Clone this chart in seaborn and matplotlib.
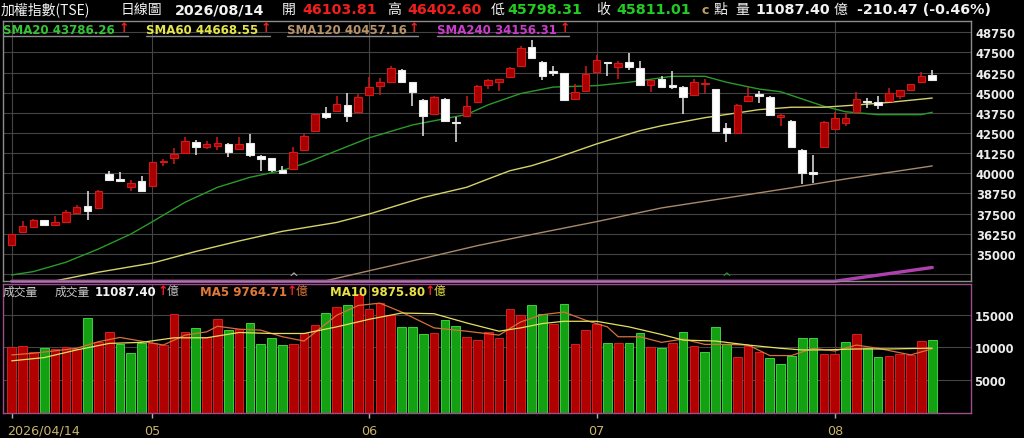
import matplotlib
matplotlib.use("Agg")
import matplotlib.pyplot as plt
import matplotlib.transforms as mtransforms
import numpy as np
import pandas as pd
import seaborn as sns

# ---------------- data ----------------
open_ = [35550, 36340, 36690, 37100, 36810, 37000, 37540, 37990, 37830, 39960,
         39600, 39170, 39540, 39190, 40670, 40930, 41260, 41920, 41650, 41710,
         41820, 41510, 41860, 41090, 40930, 40220, 40270, 41450, 42640, 43720,
         43890, 44240, 43790, 44860, 45440, 45680, 46410, 45650, 44550, 43680,
         44610, 43200, 43570, 44410, 45500, 45650, 45960, 46680, 47820, 46930,
         46370, 46220, 44610, 45130, 46270, 46890, 46580, 46930, 46520, 45480,
         45850, 45480, 45370, 44860, 45560, 45230, 42790, 42500, 44510, 44930,
         44750, 43510, 43260, 41460, 40060, 41610, 42750, 43100, 43790, 44510,
         44410, 44510, 44820, 45170, 45650, 46103.81]
high = [36260, 37060, 37150, 37130, 37330, 37740, 38030, 38920, 38950, 40160,
        40100, 39580, 39850, 40700, 40890, 41550, 42230, 42070, 42020, 42230,
        41850, 42230, 42440, 41110, 40950, 40470, 41610, 42440, 43700, 44100,
        44820, 44980, 44920, 45960, 45900, 46640, 46450, 45680, 44580, 44820,
        44670, 43480, 44820, 45460, 45830, 45870, 46620, 47920, 48290, 46950,
        46680, 46250, 45540, 46640, 47340, 46910, 46990, 47450, 46990, 45810,
        46060, 46370, 45390, 45850, 45850, 45250, 43100, 44280, 45370, 45130,
        44780, 43660, 43280, 41490, 41140, 43260, 43820, 43740, 45030, 44650,
        44820, 45290, 45200, 45560, 46270, 46402.60]
low = [35520, 36300, 36650, 36760, 36790, 36980, 37500, 37120, 37800, 39580,
       39530, 38880, 38900, 39150, 40470, 40580, 41230, 41130, 41500, 41440,
       40990, 41480, 40990, 40160, 40080, 39960, 40250, 41420, 42620, 43370,
       43860, 43200, 43760, 44830, 44860, 45660, 45660, 44200, 42330, 43650,
       43240, 41960, 43550, 44380, 45230, 45130, 45940, 46650, 47100, 45810,
       46020, 44490, 44590, 45100, 46250, 46020, 45850, 46430, 45450, 45030,
       45320, 45230, 43680, 44840, 44980, 42620, 41920, 42480, 44490, 44340,
       43620, 42920, 41580, 39340, 39400, 41590, 42730, 42920, 43770, 44030,
       43990, 44490, 44610, 45150, 45630, 45798.31]
close = [36230, 36750, 37100, 36790, 37000, 37580, 37890, 37680, 38920, 39600,
         39550, 39380, 38920, 40680, 40760, 41200, 42020, 41610, 41820, 41880,
         41340, 41820, 41140, 40890, 40200, 40020, 41340, 42300, 43680, 43510,
         44300, 43570, 44720, 45340, 45650, 46520, 45680, 45060, 43540, 44720,
         43260, 43120, 44160, 45440, 45810, 45850, 46520, 47760, 47140, 46060,
         46220, 44570, 45060, 46160, 47050, 46830, 46830, 46580, 45480, 45790,
         45340, 45370, 44750, 45650, 45630, 42640, 42480, 44260, 44780, 44810,
         43640, 43620, 41610, 40020, 39960, 43170, 43450, 43420, 44610, 44410,
         44240, 44980, 45170, 45540, 46020, 45811.01]
volume = [10100, 10250, 9340, 9850, 9700, 10100, 9750, 14500, 10860, 12370,
          10450, 9090, 10700, 10700, 10350, 15100, 12370, 12980, 11600, 14400,
          12630, 12880, 13740, 10450, 11460, 10350, 10450, 12270, 13480, 15300,
          16160, 16520, 18180, 15900, 16770, 15000, 13130, 13080, 12070, 12120,
          14140, 13280, 11600, 11110, 12370, 11460, 15900, 15000, 16500, 15150,
          13530, 16620, 10450, 12630, 13530, 10700, 10700, 10600, 12120, 10100,
          9950, 10700, 12370, 10200, 9340, 13130, 10450, 8590, 10200, 9240,
          8330, 7420, 8690, 11460, 11460, 8940, 8940, 10860, 11970, 9850,
          8490, 8740, 8990, 8840, 11010, 11087.40]
vol_dir = list("rrrgrrrgrrgggrrrrgrrgrggggrrrgrgrrrrgggrgg"
               "rrrrrrggrgrrrgrggrgrgrgggrrrgggggrrgrggrrrrg")

sma20_idx = [0, 2, 5, 8, 11, 13, 16, 19, 22, 25, 27, 30, 33, 37, 42, 44, 47, 50,
             54, 57, 61, 64, 66, 69, 71, 73, 75, 77, 80, 84, 85]
sma20_val = [33690, 33900, 34480, 35300, 36230, 37000, 38200, 39130, 39750, 40180,
             40600, 41400, 42200, 43000, 43650, 44250, 44950, 45350, 45440, 45650,
             46020, 46020, 45650, 45230, 45060, 44610, 44160, 43820, 43640, 43640,
             43786.26]
sma60_idx = [4, 8, 13, 17, 21, 25, 30, 33, 38, 42, 44, 46, 48, 50, 54, 58, 60, 64,
             69, 72, 75, 78, 81, 85]
sma60_val = [33320, 33860, 34430, 35150, 35800, 36400, 36950, 37470, 38500, 39130,
             39650, 40160, 40470, 40890, 41820, 42640, 42950, 43450, 43950, 44100,
             44100, 44240, 44400, 44668.55]
sma120_idx = [29, 33, 38, 43, 48, 54, 60, 66, 72, 77, 85]
sma120_val = [33330, 33950, 34720, 35510, 36200, 37000, 37850, 38470, 39100, 39650,
              40457.16]
sma240_idx = [0, 76, 85]
sma240_val = [33300, 33300, 34156.31]

ma5_idx = [0, 2, 6, 8, 10, 14, 16, 18, 19, 21, 23, 25, 27, 28, 30, 32, 34, 36, 39,
           42, 45, 47, 49, 51, 53, 55, 56, 58, 60, 62, 64, 66, 68, 70, 72, 74, 76,
           78, 80, 83, 85]
ma5_val = [8840, 9090, 9850, 10860, 11515, 10350, 11870, 12370, 13230, 12780,
           12630, 11620, 10960, 12270, 14900, 16410, 16770, 15400, 12980, 12470,
           11870, 13890, 15000, 15400, 14140, 13130, 11620, 11620, 10760, 11260,
           10450, 10450, 10350, 8740, 8740, 9850, 9440, 10350, 9850, 8840, 9764.71]
ma10_idx = [0, 3, 6, 9, 12, 15, 18, 21, 24, 27, 30, 33, 36, 39, 42, 45, 47, 49, 51,
            54, 57, 60, 62, 65, 68, 71, 73, 75, 78, 81, 85]
ma10_val = [7930, 8430, 9600, 10600, 10760, 11460, 11460, 12270, 12120, 12120,
            13130, 14290, 15250, 15150, 13740, 12470, 12980, 13640, 13990, 13990,
            13130, 11970, 11110, 10960, 10350, 9850, 9600, 9600, 9750, 9750, 9875.80]

signal_idx = [26, 66]
signal_color = ["#b8b8b8", "#2fa02f"]

month_ticks = [0, 13, 33, 54, 76]
month_labels = ["2026/04/14", "05", "06", "07", "08"]
price_ticks = [33750, 35000, 36250, 37500, 38750, 40000, 41250, 42500, 43750,
               45000, 46250, 47500, 48750]
vol_ticks = [5000, 10000, 15000]

# ---------------- figure ----------------
sns.set_theme(style="dark")
plt.rcParams['font.family'] = ['DejaVu Sans', 'Noto Sans CJK TC']
W, H = 1024, 439
fig = plt.figure(figsize=(W / 100, H / 100), dpi=100, facecolor="black")

def fx(x):
    return x / W

def fy(y):
    return 1 - y / H

LEFT, RIGHT = 2.7, 971
ax_p = fig.add_axes([fx(LEFT), fy(282), fx(RIGHT - LEFT), (282 - 21.5) / H])
ax_v = fig.add_axes([fx(LEFT), fy(414.3), fx(RIGHT - LEFT), (414.3 - 285) / H])

x0 = (LEFT - 11.7) / 10.83
x1 = (RIGHT - 11.7) / 10.83
GRID = "#444444"
for ax in (ax_p, ax_v):
    ax.set_facecolor("black")
    ax.set_xlim(x0, x1)
    ax.grid(False)
    for t in month_ticks:
        ax.axvline(t, color=GRID, lw=0.8, zorder=0)

ax_p.set_ylim(33316, 49482)
ax_v.set_ylim(-106, 19700)

for v in price_ticks:
    ax_p.axhline(v, color=GRID, lw=0.8, zorder=0)
for v in vol_ticks:
    ax_v.axhline(v, color=GRID, lw=0.8, zorder=0)

for sp in ax_p.spines.values():
    sp.set_color("#8c8c8c")
    sp.set_linewidth(1)
for sp in ax_v.spines.values():
    sp.set_color("#9a4f8a")
    sp.set_linewidth(1)

# ---- candles ----
idx = np.arange(len(close))
o = np.array(open_); c = np.array(close); h = np.array(high); l = np.array(low)
up = c >= o
fill = np.where(up, "#a80000", "#ffffff")
edge = np.where(up, "#d01a1a", "#e8e8e8")
ax_p.vlines(idx, l, h, colors=edge, lw=1.1, zorder=3)
body_bottom = np.minimum(o, c)
body_h = np.maximum(np.abs(c - o), 70)
ax_p.bar(idx, body_h, bottom=body_bottom, width=0.7, color=fill,
         edgecolor=edge, linewidth=0.8, zorder=4)

# ---- moving averages (price) ----
sns.lineplot(x=sma20_idx, y=sma20_val, ax=ax_p, color="#2a9a2a", lw=1.0, zorder=2)
sns.lineplot(x=sma60_idx, y=sma60_val, ax=ax_p, color="#d6d26a", lw=1.0, zorder=2)
sns.lineplot(x=sma120_idx, y=sma120_val, ax=ax_p, color="#a88a6a", lw=1.0, zorder=2)
sns.lineplot(x=sma240_idx, y=sma240_val, ax=ax_p, color="#b040b0", lw=2.4, zorder=2)
ax_p.lines[-1].set_clip_on(False)

for si, sc in zip(signal_idx, signal_color):
    ax_p.text(si, 33530, "^", color=sc, fontsize=8.5, ha="center", va="center",
              zorder=5)

ax_p.set_xticks([])
ax_p.set_yticks(price_ticks)
ax_p.set_yticklabels([""] + [str(v) for v in price_ticks[1:]])
ax_p.yaxis.tick_right()
ax_p.tick_params(axis="y", length=0, pad=3.5, labelsize=8.3, labelcolor="#ececec")
for t in ax_p.get_yticklabels():
    t.set_fontweight("bold")
ax_p.set_xlabel(""); ax_p.set_ylabel("")

# ---- volume ----
dfv = pd.DataFrame({"idx": idx, "vol": volume,
                    "dir": ["up" if d == "r" else "down" for d in vol_dir]})
sns.barplot(data=dfv, x="idx", y="vol", hue="dir",
            palette={"up": "#b00000", "down": "#13a013"}, native_scale=True,
            width=0.8, dodge=False, legend=False, saturation=1, ax=ax_v, zorder=2)
for p in ax_v.patches:
    fc = p.get_facecolor()
    if fc[1] > fc[0]:
        p.set_edgecolor("#3fd03f")
    else:
        p.set_edgecolor("#d02020")
    p.set_linewidth(0.7)

sns.lineplot(x=ma5_idx, y=ma5_val, ax=ax_v, color="#d8703a", lw=0.9, zorder=3)
sns.lineplot(x=ma10_idx, y=ma10_val, ax=ax_v, color="#e6e060", lw=0.9, zorder=3)

ax_v.set_xlim(x0, x1)
ax_v.set_yticks(vol_ticks)
ax_v.set_yticklabels([str(v) for v in vol_ticks])
ax_v.yaxis.tick_right()
ax_v.tick_params(axis="y", length=0, pad=2.5, labelsize=8.3, labelcolor="#ececec")
for t in ax_v.get_yticklabels():
    t.set_fontweight("bold")
ax_v.set_xticks(month_ticks)
ax_v.set_xticklabels(month_labels)
ax_v.tick_params(axis="x", length=3.5, width=1, color="#b0b0b0", pad=4,
                 labelsize=9.2, labelcolor="#c9b56a", bottom=True)
labs = ax_v.get_xticklabels()
labs[0].set_horizontalalignment("left")
labs[0].set_transform(labs[0].get_transform() +
                      mtransforms.ScaledTranslation(-5 / 100, 0, fig.dpi_scale_trans))
ax_v.set_xlabel(""); ax_v.set_ylabel("")

# ---------------- texts ----------------
CJK = ['Noto Sans CJK TC', 'DejaVu Sans']

def T(x, y, s, color, size, bold=False, fam=None):
    fig.text(fx(x), fy(y), s, color=color, fontsize=size,
             fontweight="bold" if bold else "normal",
             family=fam if fam else ['DejaVu Sans', 'Noto Sans CJK TC'],
             ha="left", va="center")

RED = "#f01e1e"; GRN = "#22cc22"; WHT = "#f2f2f2"
ty = 10
T(1, ty, "加權指數(TSE)", WHT, 10, fam=CJK)
T(121, ty, "日線圖", WHT, 10, fam=CJK)
T(175, ty, "2026/08/14", WHT, 10.3, bold=True)
T(282, ty, "開", WHT, 10, fam=CJK)
T(302, ty, "46103.81", RED, 10.3, bold=True)
T(387, ty, "高", WHT, 10, fam=CJK)
T(407, ty, "46402.60", RED, 10.3, bold=True)
T(491, ty, "低", WHT, 10, fam=CJK)
T(507, ty, "45798.31", GRN, 10.3, bold=True)
T(596, ty, "收", WHT, 10, fam=CJK)
T(616, ty, "45811.01", GRN, 10.3, bold=True)
T(702, ty + 1, "c", "#c0a060", 9, bold=True)
T(714, ty, "點", WHT, 10, fam=CJK)
T(735, ty, "量", WHT, 10, fam=CJK)
T(755, ty, "11087.40", WHT, 10.3, bold=True)
T(834, ty, "億", WHT, 10, fam=CJK)
T(857, ty, "-210.47 (-0.46%)", WHT, 10.3, bold=True)

# SMA legend row
sy = 30
sma_legend = [(3, "SMA20 43786.26", "#35c435", 128),
              (146, "SMA60 44668.55", "#e6e64a", 270),
              (287, "SMA120 40457.16", "#b8936a", 418),
              (437, "SMA240 34156.31", "#cc3ccc", 569)]
for x, s, col, xe in sma_legend:
    T(x, sy, s, col, 8.5, bold=True)
    T(xe - 9, sy - 1, "↑", RED, 9, bold=True)
    fig.add_artist(plt.Line2D([fx(x), fx(xe)], [fy(36.5), fy(36.5)],
                              color="#8a8a8a", lw=1))

# volume legend row
vy = 292.5
T(3, vy, "成交量", "#c8c8c8", 8.5, fam=CJK)
T(55, vy, "成交量", "#c8c8c8", 8.5, fam=CJK)
T(95, vy, "11087.40", WHT, 8.5, bold=True)
T(158, vy - 1, "↑", RED, 9, bold=True)
T(167, vy, "億", "#c8c8c8", 8.5, fam=CJK)
T(200, vy, "MA5 9764.71", "#e07a38", 8.5, bold=True)
T(287, vy - 1, "↑", RED, 9, bold=True)
T(296, vy, "億", "#e07a38", 8.5, fam=CJK)
T(330, vy, "MA10 9875.80", "#e8e244", 8.5, bold=True)
T(425, vy - 1, "↑", RED, 9, bold=True)
T(434, vy, "億", "#e8e244", 8.5, fam=CJK)

fig.savefig("out.png", dpi=100, facecolor="black")
